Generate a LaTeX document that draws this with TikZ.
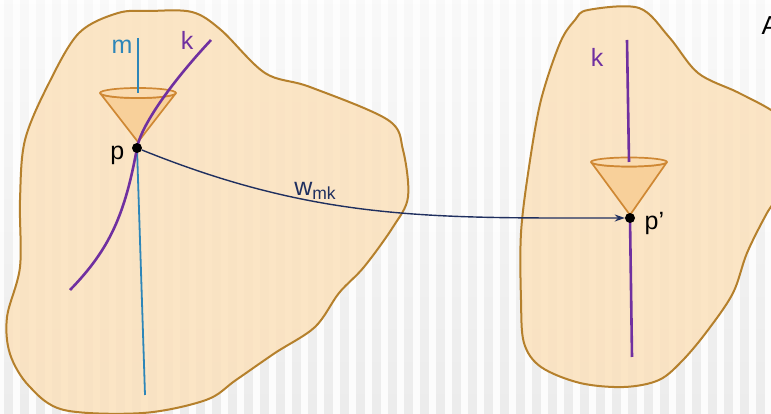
\documentclass[tikz,border=0pt]{standalone}
\usepackage{fontspec}
\setmainfont{Liberation Sans}
\usetikzlibrary{arrows.meta,positioning}
\definecolor{Peach}{HTML}{FBE1BC}
\definecolor{Brown}{HTML}{B5802C}
\definecolor{ConeF}{HTML}{F8D09A}
\definecolor{ConeT}{HTML}{FADBB0}
\definecolor{ConeL}{HTML}{CF8834}
\definecolor{Purple}{HTML}{7030A0}
\definecolor{Teal}{HTML}{2E86B8}
\definecolor{Navy}{HTML}{1F2F5F}

\begin{document}
\begin{tikzpicture}[x=1pt,y=1pt,font=\fontsize{25}{30}\selectfont,
    blob/.style={draw=Brown,fill=Peach,fill opacity=0.85,line width=2pt,line join=round},
    cone/.style={draw=ConeL,fill=ConeF,line width=1.7pt,line join=round},
    kline/.style={draw=Purple,line width=2.6pt},
    mline/.style={draw=Teal,line width=1.8pt},
    dot/.style={circle,fill=black,inner sep=0pt,minimum size=10pt},
    >=Stealth]
  % slide background
  \useasboundingbox (0,0) rectangle (771,414);
  \shade[top color=gray!5,bottom color=gray!15] (0,0) rectangle (771,414);
  \foreach \x in {0,16,...,784}
    \draw[white,line width=7pt,opacity=0.85] (\x,0) -- (\x,414);
  % the two patches
  \draw[blob] plot[smooth cycle,tension=0.55] coordinates {(79,381) (118,401) (150,403) (192,402)
    (221,384) (265,341) (310,327) (388,294) (403,264) (408,217) (393,187) (364,147) (339,121)
    (315,87) (275,61) (236,34) (206,14) (143,1) (64,4) (29,28) (10,60) (7,97) (20,147) (20,214)
    (25,274) (49,331)};
  \draw[blob] plot[smooth cycle,tension=0.55] coordinates {(575,394) (588,404) (639,406) (669,377)
    (698,341) (737,322) (771,304) (795,285) (785,230) (767,201) (747,161) (733,121) (708,84)
    (683,54) (659,34) (624,27) (580,31) (541,47) (524,71) (521,114) (521,181) (529,247) (541,314)
    (560,371)};
  % left patch: m, k and the cone at p
  \draw[mline] (137,266) -- (145,19);
  \draw[cone] (100,321) -- (138,272) -- (176,321) arc[start angle=0,end angle=-180,x radius=38,y radius=5] -- cycle;
  \draw[cone,fill=ConeT] (138,321) ellipse[x radius=38,y radius=5];
  \draw[mline] (138,376) -- (138,321);
  \draw[kline] (70,124) .. controls (110,165) and (125,200) .. (137,266)
    .. controls (141,288) and (170,330) .. (211,374);
  \node[dot] (p) at (137,266) {};
  \node[left=4pt of p,yshift=-7pt] (plab) {p};
  \node[text=Teal] (mlab) at (122,367) {m};
  \node[text=Purple] (klab) at (187,374) {k};
  % right patch: k and the cone at p'
  \draw[kline] (632,57) -- (630,196);
  \draw[cone] (591,252) -- (630,199) -- (667,252) arc[start angle=0,end angle=-180,x radius=38,y radius=4.5] -- cycle;
  \draw[cone,fill=ConeT] (629,252) ellipse[x radius=38,y radius=4.5];
  \draw[kline] (627,374) -- (629,252);
  \node[dot] (pp) at (630,196) {};
  \node[right=6pt of pp,yshift=-5pt] (pplab) {p'};
  \node[text=Purple] (kplab) at (597,357) {k};
  % transport along w_mk
  \draw[-{Stealth[length=10pt,width=7pt]},Navy,line width=1.4pt] (p) to[out=-22,in=180]
    node[pos=0.36,above=-2pt] (wlab) {w\textsubscript{mk}} (pp);
  \node[anchor=west,font=\fontsize{26}{30}\selectfont] (alab) at (758,388) {A};
\end{tikzpicture}
\end{document}
